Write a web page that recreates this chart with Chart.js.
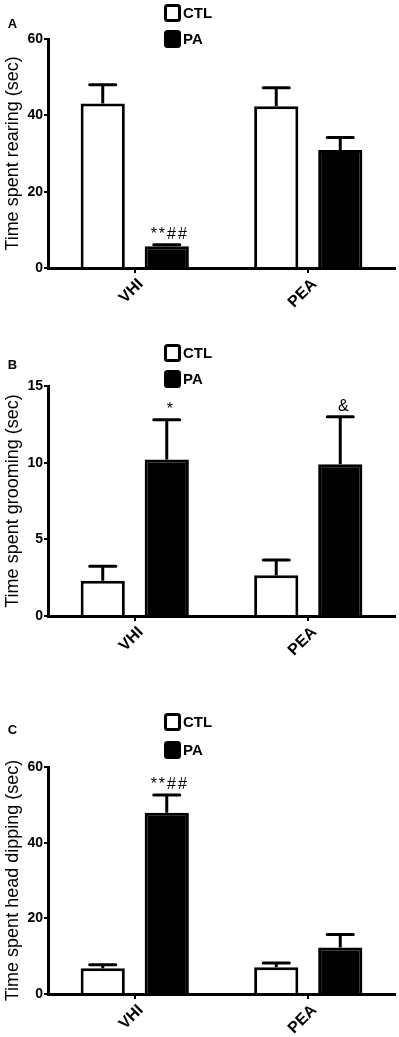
<!DOCTYPE html>
<html>
<head>
<meta charset="utf-8">
<script src="https://cdn.jsdelivr.net/npm/chart.js@4.4.1/dist/chart.umd.min.js"></script>
<style>
body{margin:0;background:#fff;}
canvas{display:block;}
</style>
</head>
<body>
<canvas id="chartA" width="399" height="340"></canvas>
<canvas id="chartB" width="399" height="340"></canvas>
<canvas id="chartC" width="399" height="357"></canvas>
<script>
var categories = ['VHI', 'PEA'];
var seriesNames = ['CTL', 'PA'];

// A - rearing
var rearingCTL = [43.1, 42.4];
var rearingCTLsem = [4.9, 4.8];
var rearingPA = [5.7, 30.9];
var rearingPAsem = [0.4, 3.3];
var rearingMarks = ['**##', ''];

// B - grooming
var groomingCTL = [2.3, 2.65];
var groomingCTLsem = [0.95, 1.0];
var groomingPA = [10.2, 9.9];
var groomingPAsem = [2.6, 3.1];
var groomingMarks = ['*', '&'];

// C - head dipping
var dippingCTL = [6.8, 7.1];
var dippingCTLsem = [0.9, 1.1];
var dippingPA = [47.9, 12.3];
var dippingPAsem = [4.7, 3.4];
var dippingMarks = ['**##', ''];

var yTicksA = [0, 20, 40, 60];
var yTicksB = [0, 5, 10, 15];
var yTicksC = [0, 20, 40, 60];

var FONT = '"Liberation Sans", Arial, sans-serif';

var extras = {
	id: 'extras',
	afterDatasetsDraw: function(chart, args, opts) {
		var ctx = chart.ctx, y = chart.scales.y;
		ctx.save();
		chart.data.datasets.forEach(function(ds, i) {
			var meta = chart.getDatasetMeta(i);
			meta.data.forEach(function(bar, j) {
				var top = y.getPixelForValue(ds.data[j] + ds.sem[j]);
				ctx.strokeStyle = '#000';
				ctx.lineWidth = 3;
				ctx.lineCap = 'butt';
				ctx.beginPath();
				ctx.moveTo(bar.x, bar.y);
				ctx.lineTo(bar.x, top);
				ctx.stroke();
				ctx.lineCap = 'round';
				ctx.beginPath();
				ctx.moveTo(bar.x - 13, top);
				ctx.lineTo(bar.x + 13, top);
				ctx.stroke();
				if (ds.marks && ds.marks[j]) {
					ctx.fillStyle = '#000';
					ctx.font = '16px ' + FONT;
					ctx.letterSpacing = ds.marks[j].length > 1 ? '2px' : '0px';
					ctx.textAlign = 'center';
					ctx.textBaseline = 'bottom';
					ctx.fillText(ds.marks[j], bar.x + 3, top - 2);
					ctx.letterSpacing = '0px';
				}
			});
		});
		ctx.restore();
	},
	afterDraw: function(chart, args, opts) {
		var ctx = chart.ctx;
		ctx.save();
		// panel letter
		ctx.fillStyle = '#000';
		ctx.font = 'bold 13px ' + FONT;
		ctx.textAlign = 'center';
		ctx.textBaseline = 'middle';
		ctx.fillText(opts.letter, 12.5, opts.letterY);
		// legend
		chart.data.datasets.forEach(function(ds, i) {
			var ly = opts.legendTop + i * opts.legendGap;
			ctx.beginPath();
			ctx.roundRect(165.5, ly + 1.5, 14, 15, 2);
			ctx.fillStyle = ds.backgroundColor;
			ctx.fill();
			ctx.lineWidth = 3;
			ctx.strokeStyle = '#000';
			ctx.stroke();
			ctx.fillStyle = '#000';
			ctx.font = 'bold 15px ' + FONT;
			ctx.textAlign = 'left';
			ctx.textBaseline = 'middle';
			ctx.fillText(ds.label, 183, ly + 9.5);
		});
		ctx.restore();
	}
};

function makeChart(id, ctl, ctlSem, pa, paSem, marks, yTicks, title, top, bottomH, legendTop, legendGap, letter, letterY) {
	var ctx = document.getElementById(id).getContext('2d');
	return new Chart(ctx, {
		type: 'bar',
		data: {
			labels: categories,
			datasets: [
				{
					label: seriesNames[0],
					data: ctl,
					sem: ctlSem,
					backgroundColor: '#ffffff',
					borderColor: '#000000',
					borderWidth: 3,
					barPercentage: 0.69,
					categoryPercentage: 0.738
				},
				{
					label: seriesNames[1],
					data: pa,
					sem: paSem,
					marks: marks,
					backgroundColor: '#000000',
					borderColor: '#000000',
					borderWidth: 3,
					barPercentage: 0.69,
					categoryPercentage: 0.738
				}
			]
		},
		options: {
			responsive: false,
			animation: false,
			layout: { padding: { top: top, right: 4, left: 0, bottom: 0 } },
			plugins: {
				legend: { display: false },
				tooltip: { enabled: false },
				extras: { letter: letter, letterY: letterY, legendTop: legendTop, legendGap: legendGap }
			},
			scales: {
				x: {
					offset: true,
					grid: { offset: false, drawOnChartArea: false, tickLength: 5, color: '#000', lineWidth: 2 },
					border: { color: '#000', width: 3 },
					ticks: {
						color: '#000',
						font: { family: FONT, size: 16, weight: 'bold' },
						minRotation: 45,
						maxRotation: 45,
						padding: 2,
						labelOffset: 6
					},
					afterFit: function(scale) { scale.height = bottomH; }
				},
				y: {
					min: yTicks[0],
					max: yTicks[yTicks.length - 1],
					afterBuildTicks: function(scale) {
						scale.ticks = yTicks.map(function(v) { return { value: v }; });
					},
					grid: { drawOnChartArea: false, tickLength: 4, color: '#000', lineWidth: 2 },
					border: { color: '#000', width: 3 },
					ticks: {
						color: '#000',
						font: { family: FONT, size: 14, weight: 'bold' },
						padding: 1
					},
					title: {
						display: true,
						text: title,
						color: '#000',
						font: { family: FONT, size: 18 },
						padding: { top: 2, bottom: 0 }
					},
					afterFit: function(scale) { scale.width = 48; }
				}
			}
		},
		plugins: [extras]
	});
}

makeChart('chartA', rearingCTL, rearingCTLsem, rearingPA, rearingPAsem, rearingMarks, yTicksA,
	'Time spent rearing (sec)', 39, 72, 4, 26, 'A', 24);
makeChart('chartB', groomingCTL, groomingCTLsem, groomingPA, groomingPAsem, groomingMarks, yTicksB,
	'Time spent grooming (sec)', 46, 64, 4, 26, 'B', 25);
makeChart('chartC', dippingCTL, dippingCTLsem, dippingPA, dippingPAsem, dippingMarks, yTicksC,
	'Time spent head dipping (sec)', 87, 43, 33, 28, 'C', 50);
</script>
</body>
</html>
